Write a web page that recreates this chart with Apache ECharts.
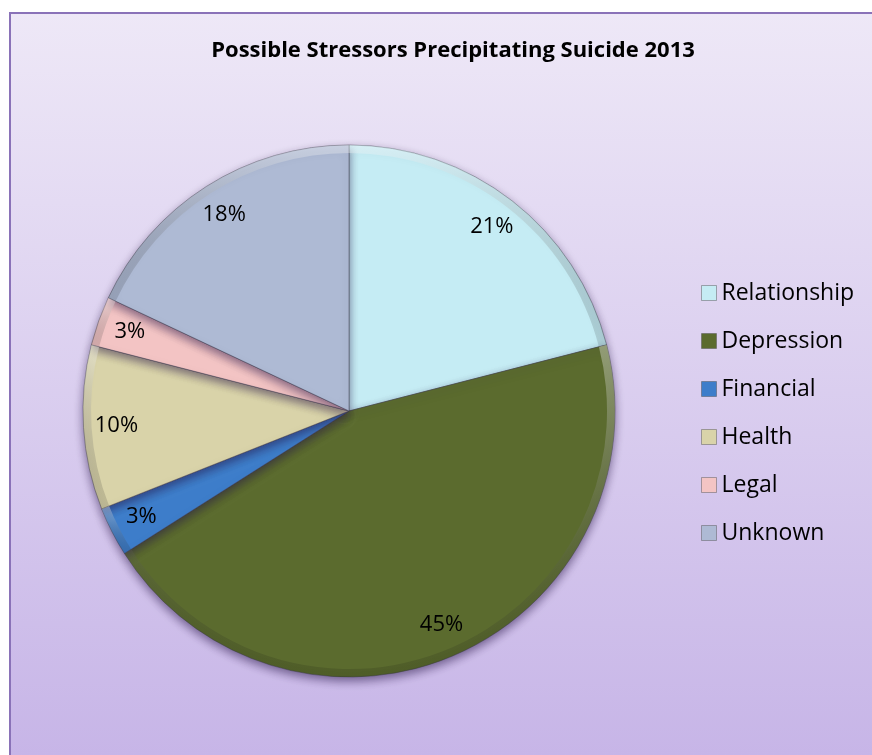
<!DOCTYPE html>
<html>
<head>
<meta charset="utf-8">
<title>Possible Stressors Precipitating Suicide 2013</title>
<script src="https://cdn.jsdelivr.net/npm/echarts@6/dist/echarts.min.js"></script>
<style>
  html, body { margin: 0; padding: 0; background: #ffffff; }
  #chart { width: 872px; height: 755px; }
</style>
</head>
<body>
<div id="chart"></div>
<script>
// Stressor categories and their share of cases (percent)
const categories = ['Relationship', 'Depression', 'Financial', 'Health', 'Legal', 'Unknown'];
const shares = [21, 45, 3, 10, 3, 18];
const sliceColors = ['#c5ecf4', '#5b6b2e', '#3d7dca', '#d9d3a9', '#f3c4c4', '#aebad4'];

const titleText = 'Possible Stressors Precipitating Suicide 2013';
const FONT = '"Open Sans", Lato, sans-serif';

const pieCenter = [349, 411];
const pieRadius = 266;

const pieData = categories.map((name, i) => ({
  name,
  value: shares[i],
  itemStyle: { color: sliceColors[i] }
}));

const chart = echarts.init(document.getElementById('chart'), null, { renderer: 'canvas' });

chart.setOption({
  animation: false,
  backgroundColor: '#ffffff',
  graphic: [{
    type: 'rect',
    z: -10,
    silent: true,
    shape: { x: 10, y: 13, width: 900, height: 800 },
    style: {
      fill: {
        type: 'linear', x: 0, y: 0, x2: 0, y2: 1,
        colorStops: [
          { offset: 0, color: '#eee8f7' },
          { offset: 1, color: '#c4b1e6' }
        ]
      },
      stroke: '#8a72b8',
      lineWidth: 2
    }
  }],
  title: {
    text: titleText,
    left: 448,
    textAlign: 'center',
    top: 35,
    textStyle: { fontFamily: FONT, fontWeight: 'bold', fontSize: 22, color: '#000000' }
  },
  legend: {
    orient: 'vertical',
    left: 696,
    top: 276,
    padding: 5,
    itemWidth: 15,
    itemHeight: 15,
    itemGap: 24,
    icon: 'rect',
    selectedMode: false,
    itemStyle: { borderColor: 'rgba(80,80,80,0.45)', borderWidth: 1 },
    textStyle: { fontFamily: FONT, fontSize: 23, lineHeight: 24, color: '#000000' },
    data: categories
  },
  series: [
    {
      // the slices
      type: 'pie',
      name: 'Stressors',
      center: pieCenter,
      radius: pieRadius,
      startAngle: 90,
      clockwise: true,
      avoidLabelOverlap: false,
      label: { show: false },
      labelLine: { show: false },
      itemStyle: {
        borderColor: 'rgba(60,60,70,0.45)',
        borderWidth: 1,
        shadowColor: 'rgba(40,20,70,0.55)',
        shadowBlur: 10,
        shadowOffsetY: 4
      },
      emphasis: { disabled: true },
      data: pieData
    },
    {
      // bevel highlight along the rim
      type: 'pie',
      center: pieCenter,
      radius: [pieRadius - 8, pieRadius],
      startAngle: 90,
      clockwise: true,
      silent: true,
      label: { show: false },
      labelLine: { show: false },
      itemStyle: {
        color: {
          type: 'linear', x: 0, y: 0, x2: 0, y2: 1,
          colorStops: [
            { offset: 0, color: 'rgba(255,255,255,0.35)' },
            { offset: 1, color: 'rgba(0,0,0,0.12)' }
          ]
        }
      },
      emphasis: { disabled: true },
      data: categories.map((name, i) => ({ name, value: shares[i] }))
    },
    {
      // percent labels near the rim
      type: 'pie',
      center: pieCenter,
      radius: [194, pieRadius],
      startAngle: 90,
      clockwise: true,
      silent: true,
      itemStyle: { color: 'rgba(0,0,0,0)' },
      label: {
        show: true,
        position: 'inside',
        formatter: p => p.value + '%',
        fontFamily: FONT,
        fontSize: 22,
        color: '#000000'
      },
      labelLine: { show: false },
      emphasis: { disabled: true },
      data: categories.map((name, i) => ({ name, value: shares[i] }))
    }
  ]
});
</script>
</body>
</html>
